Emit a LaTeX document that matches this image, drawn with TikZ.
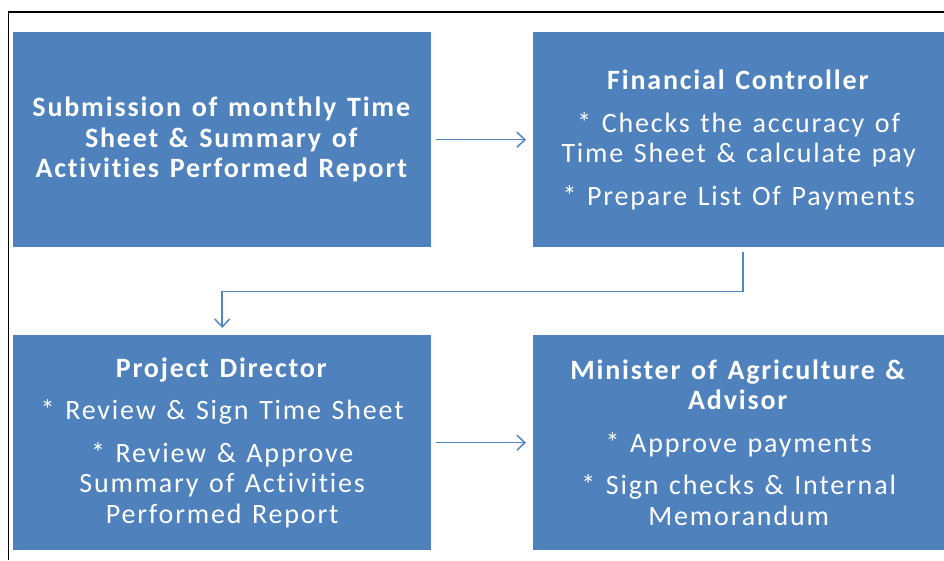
\documentclass[tikz,border=0pt]{standalone}
\usepackage{fontspec}
\setmainfont{Carlito}[LetterSpace=6.5, WordSpace=1.3, Ligatures=NoCommon]
\usepackage{xcolor}
\usepackage{tikz}
\usetikzlibrary{positioning, arrows.meta}
\definecolor{boxblue}{RGB}{79,129,189}
\definecolor{lineblue}{RGB}{84,134,196}

\begin{document}
\begin{tikzpicture}[x=1pt,y=-1pt]
        \tikzset{stepbox/.style = {rectangle, fill=boxblue, text=white, inner sep=0pt,
            align=center, font=\fontsize{28}{30.5}\selectfont, anchor=north west}}
        \tikzset{flow/.style = {-{Straight Barb[length=8pt,width=15pt]}, lineblue, line width=1.5pt,
            shorten <=5pt, shorten >=7pt}}

        \useasboundingbox (0,0) rectangle (944,560);
        \draw[line width=1.2pt] (8.5,560) -- (8.5,12) -- (944,12);

        \node[stepbox, minimum width=418pt, minimum height=215pt] (sub) at (13,32)
            {\textbf{Submission of monthly Time}\\\textbf{Sheet \& Summary of}\\\textbf{Activities Performed Report}};
        \node[stepbox, minimum width=411pt, minimum height=215pt] (fc) at (533,32)
            {\textbf{Financial Controller}\\[12pt]* Checks the accuracy of\\Time Sheet \& calculate pay\\[12pt]* Prepare List Of Payments};
        \node[stepbox, minimum width=418pt, minimum height=215pt] (pd) at (13,335)
            {\textbf{Project Director}\\[12pt]* Review \& Sign Time Sheet\\[12pt]* Review \& Approve\\Summary of Activities\\Performed Report};
        \node[stepbox, minimum width=411pt, minimum height=215pt] (min) at (533,335)
            {\textbf{Minister of Agriculture \&}\\\textbf{Advisor}\\[12pt]* Approve payments\\[12pt]* Sign checks \& Internal\\Memorandum};

        % arrows
        \draw[flow] (sub) -- (fc);
        \draw[flow] ([xshift=4.5pt]fc.south) -- ++(0,44) -| (pd.north);
        \draw[flow] (pd) -- (min);

    \end{tikzpicture}
\end{document}
